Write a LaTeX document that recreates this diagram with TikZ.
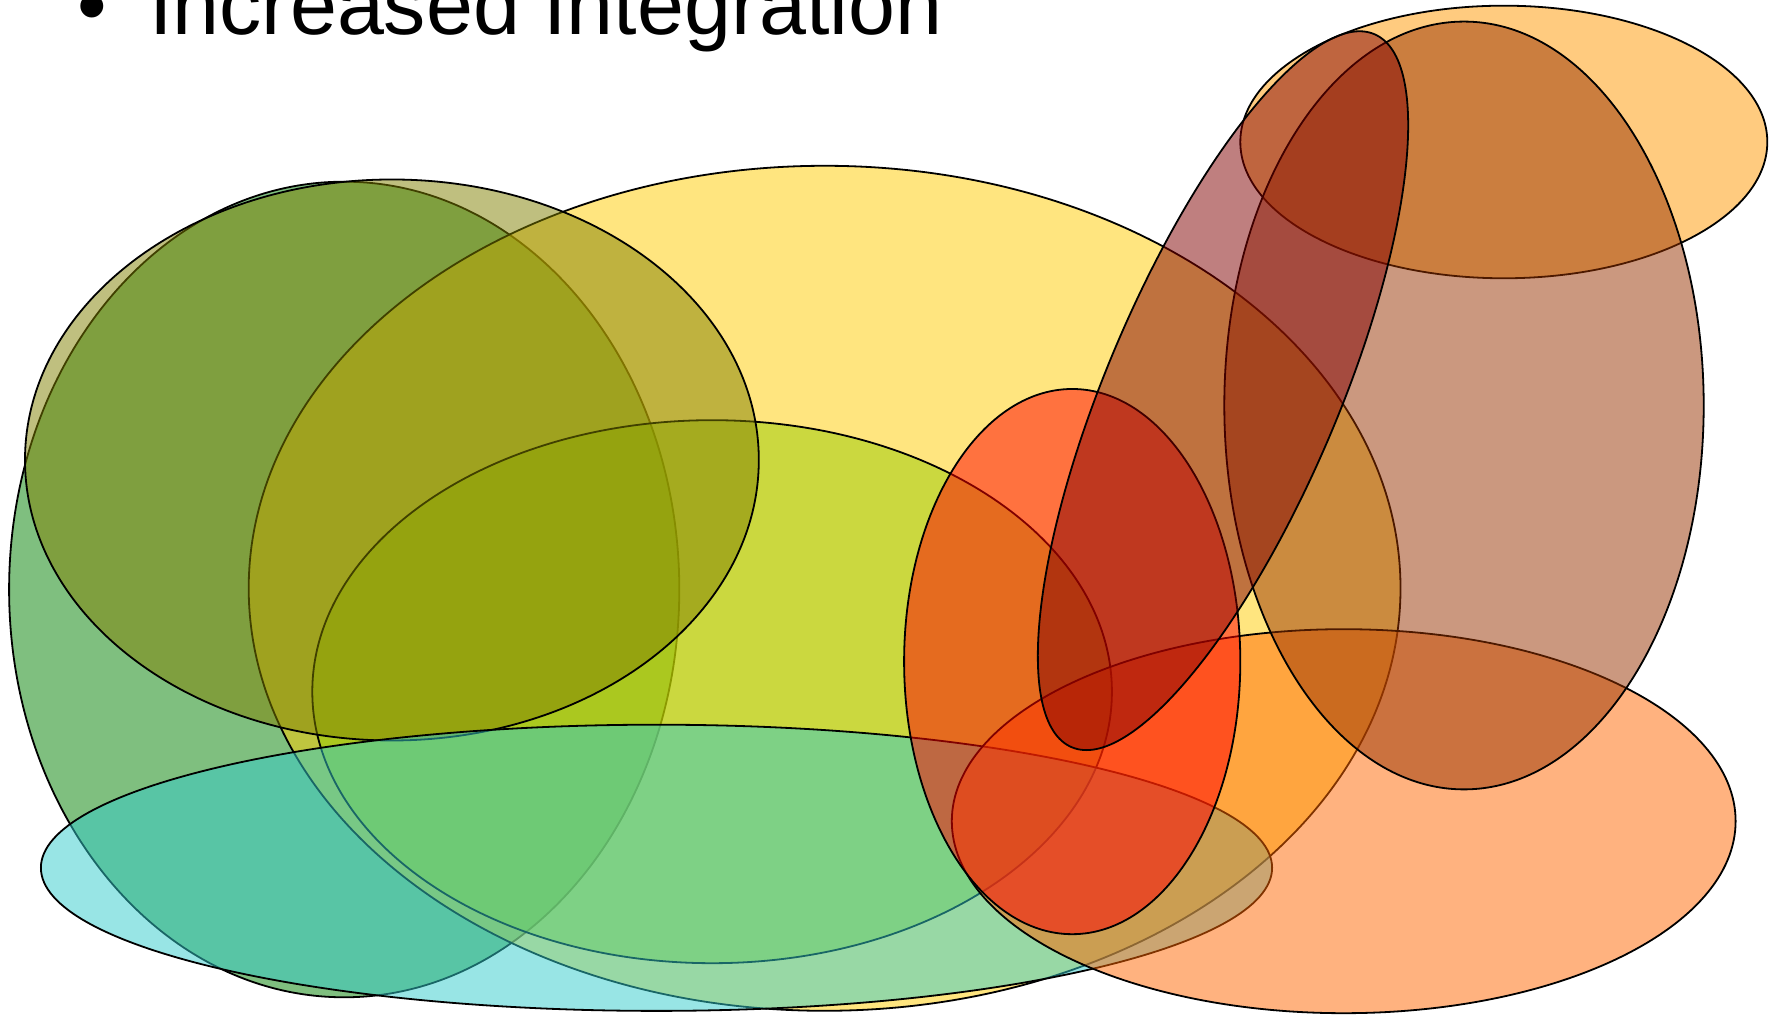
\documentclass[tikz,border=0pt]{standalone}
\usepackage{fontspec}
\setmainfont{Liberation Sans}
\definecolor{cA}{RGB}{255,204,0}
\definecolor{cB}{RGB}{0,128,0}
\definecolor{cC}{RGB}{128,128,0}
\definecolor{cD}{RGB}{153,204,0}
\definecolor{cE}{RGB}{51,204,204}
\definecolor{cF}{RGB}{255,102,0}
\definecolor{cG}{RGB}{255,0,0}
\definecolor{cH}{RGB}{128,0,0}
\definecolor{cI}{RGB}{153,51,0}
\definecolor{cJ}{RGB}{255,153,0}
\tikzset{blob/.style={draw=black, line width=0.9pt, fill opacity=0.5, draw opacity=1}}
\begin{document}
\begin{tikzpicture}[x=0.5pt,y=0.5pt]
\useasboundingbox (0,0) rectangle (1781,1015);
\clip (0,0) rectangle (1781,1015);
\fill[white] (0,0) rectangle (1781,1015);
% ellipses
\draw[blob, fill=cB] (344.2,425.5) ellipse [x radius=335.1, y radius=407.8];
\draw[blob, fill=cA] (824.6,426.7) ellipse [x radius=575.9, y radius=422.5];
\draw[blob, fill=cD] (712.1,323.3) ellipse [x radius=399.8, y radius=271.5];
\draw[blob, fill=cC] (391.9,555.0) ellipse [x radius=366.9, y radius=280.5];
\draw[blob, fill=cE] (656.5,147.2) ellipse [x radius=615.6, y radius=143.1];
\draw[blob, fill=cF] (1343.7,193.8) ellipse [x radius=391.9, y radius=192.0];
\draw[blob, fill=cJ] (1503.8,873.0) ellipse [x radius=263.5, y radius=136.3];
\draw[blob, fill=cI] (1464.0,609.5) ellipse [x radius=239.7, y radius=383.9];
\draw[blob, fill=cG] (1072.2,353.4) ellipse [x radius=168.1, y radius=272.6];
\draw[blob, fill=cH, rotate around={67:(1223.0,624.3)}] (1223.0,624.3) ellipse [x radius=387.3, y radius=115.9];
% title
\node[anchor=base, inner sep=0pt, font=\fontsize{42.2pt}{50pt}\selectfont] (bullet) at (92,980) {•};
\node[anchor=base west, inner sep=0pt, font=\fontsize{42.2pt}{50pt}\selectfont] (title) at (149,980) {Increased Integration};
\end{tikzpicture}
\end{document}
